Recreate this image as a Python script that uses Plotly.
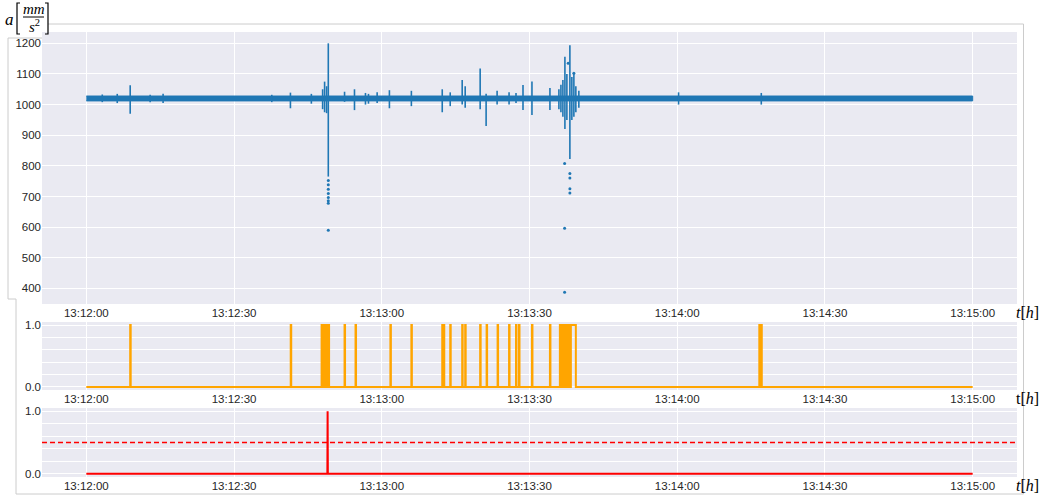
import pandas as pd
import plotly.graph_objects as go

W, H = 1042, 496
BASE = pd.Timestamp("2023-01-01 13:12:00")

# ---------------- data (seconds after 13:12:00) ----------------
time_span = [0, 180]

# dense acceleration band (envelope of the noisy samples)
band_t = [0, 180]
band_lo = [1012, 1012]
band_hi = [1028, 1028]

# bursts in the acceleration signal: time, min, max
spike_t = [3.24, 6.28, 8.91, 12.96, 15.59, 37.66, 41.45, 45.70, 47.99, 48.39,
           48.80, 49.14, 52.44, 54.46, 56.69, 57.30, 59.06, 61.55, 66.01, 72.28,
           73.90, 76.33, 76.94, 79.98, 81.19, 83.42, 85.85, 87.26, 88.68, 90.50,
           94.15, 95.97, 96.38, 96.78, 97.19, 97.59, 98.20, 98.60, 99.01, 99.41,
           100.02, 120.27, 137.07]
spike_lo = [1008, 1005, 970, 1008, 1005, 1008, 988, 1003, 985, 975,
            972, 765, 1009, 982, 1000, 1003, 1005, 988, 995, 975,
            995, 1000, 990, 985, 930, 1000, 1000, 1005, 982, 966,
            982, 985, 975, 960, 920, 950, 822, 950, 960, 975,
            990, 1000, 1000]
spike_hi = [1033, 1035, 1063, 1032, 1035, 1032, 1039, 1035, 1050, 1075,
            1060, 1200, 1042, 1050, 1038, 1035, 1040, 1047, 1045, 1050,
            1040, 1080, 1060, 1118, 1035, 1045, 1040, 1038, 1064, 1075,
            1054, 1050, 1065, 1080, 1156, 1100, 1194, 1090, 1102, 1060,
            1045, 1040, 1038]

# isolated samples far from the band
outlier_t = [49.14, 49.14, 49.14, 49.14, 49.14, 49.14, 49.14, 49.14,
             97.13, 98.20, 98.20, 98.20, 98.20, 97.13, 97.13, 97.86, 99.01]
outlier_v = [752, 738, 724, 710, 697, 686, 678, 590,
             808, 775, 760, 725, 711, 596, 387, 1135, 1102]

# detection pulses (value 1 between start and end)
pulse_start = [8.91, 41.51, 47.78, 48.19, 48.69, 49.20, 52.44, 54.67, 61.75, 66.01,
               72.28, 72.59, 73.90, 76.33, 76.94, 79.98, 81.29, 83.52, 85.85, 87.26,
               87.87, 90.50, 94.15, 96.17, 96.38, 96.58, 96.78, 96.98, 97.19, 97.39,
               97.69, 98.00, 98.40, 136.67, 137.07]
pulse_end = [9.01, 41.61, 47.88, 48.29, 48.79, 49.30, 52.54, 54.77, 61.85, 66.11,
             72.38, 72.69, 74.00, 76.43, 77.04, 80.08, 81.39, 83.62, 85.95, 87.36,
             87.97, 90.60, 94.25, 96.27, 96.48, 96.68, 96.88, 97.08, 97.29, 97.49,
             97.79, 98.10, 99.41, 136.77, 137.17]

# alarm signal
alarm_t = [49.0]
alarm_width = 0.1
threshold = 0.5

# ---------------- helpers ----------------
def ts(sec_list):
    return [None if s is None else BASE + pd.Timedelta(seconds=s) for s in sec_list]

def px(x):
    return x / W

def py(y):
    return 1 - y / H

# ---------------- traces ----------------
fig = go.Figure()

blue = "#1f77b4"
poly_t = band_t + band_t[::-1]
poly_v = band_hi + band_lo[::-1]
fig.add_trace(go.Scatter(x=ts(poly_t), y=poly_v, fill="toself", fillcolor=blue,
                         mode="lines", line=dict(color=blue, width=1),
                         xaxis="x", yaxis="y", showlegend=False, hoverinfo="skip"))

sx, sy = [], []
for t, lo, hi in zip(spike_t, spike_lo, spike_hi):
    sx += [t, t, None]
    sy += [lo, hi, None]
fig.add_trace(go.Scatter(x=ts(sx), y=sy, mode="lines",
                         line=dict(color=blue, width=1.6),
                         xaxis="x", yaxis="y", showlegend=False))
fig.add_trace(go.Scatter(x=ts(outlier_t), y=outlier_v, mode="markers",
                         marker=dict(color=blue, size=3),
                         xaxis="x", yaxis="y", showlegend=False))

ox, oy = [time_span[0]], [0]
for s, e in zip(pulse_start, pulse_end):
    ox += [s, s, e, e]
    oy += [0, 1, 1, 0]
ox.append(time_span[1]); oy.append(0)
fig.add_trace(go.Scatter(x=ts(ox), y=oy, mode="lines",
                         line=dict(color="#ffa500", width=2),
                         xaxis="x2", yaxis="y2", showlegend=False))

rx, ry = [time_span[0]], [0]
for a in alarm_t:
    rx += [a - alarm_width / 2, a, a + alarm_width / 2]
    ry += [0, 1, 0]
rx.append(time_span[1]); ry.append(0)
fig.add_trace(go.Scatter(x=ts(rx), y=ry, mode="lines",
                         line=dict(color="#ff0000", width=2),
                         xaxis="x3", yaxis="y3", showlegend=False))

# ---------------- layout ----------------
tickfont = dict(family="Liberation Sans, Arial, sans-serif", size=11.5, color="#262626")
xrange_ = [BASE + pd.Timedelta(seconds=-9), BASE + pd.Timedelta(seconds=189)]
xdom = [px(42), px(1017)]

def xax(anchor):
    return dict(domain=xdom, anchor=anchor, type="date", range=xrange_,
                tickformat="%H:%M:%S", dtick=30000, tick0=BASE,
                showgrid=True, gridcolor="white", gridwidth=1, zeroline=False,
                showline=False, ticks="", tickfont=tickfont, automargin=False)

small_y = dict(range=[-0.05, 1.05], tickvals=[0, 1], ticktext=["0.0", "1.0"],
               showgrid=True, gridcolor="white", gridwidth=1, zeroline=False,
               ticks="", tickfont=tickfont, automargin=False,
               minor=dict(dtick=0.2, tick0=0, showgrid=True, gridcolor="white",
                          gridwidth=1, ticks=""))

fig.update_layout(
    width=W, height=H, autosize=False,
    margin=dict(l=0, r=0, t=0, b=0, pad=0),
    paper_bgcolor="white", plot_bgcolor="#eaeaf2",
    xaxis=xax("y"), xaxis2=xax("y2"), xaxis3=xax("y3"),
    yaxis=dict(domain=[py(304), py(32)], anchor="x", range=[349, 1237],
               dtick=100, tick0=0, showgrid=True, gridcolor="white", gridwidth=1,
               zeroline=False, ticks="", tickfont=tickfont, automargin=False),
    yaxis2=dict(domain=[py(390), py(322)], anchor="x2", **small_y),
    yaxis3=dict(domain=[py(477), py(408)], anchor="x3", **small_y),
)

# threshold line
fig.add_shape(type="line", xref="x3 domain", yref="y3", x0=0, x1=1,
              y0=threshold, y1=threshold,
              line=dict(color="#ff0000", width=1.5, dash="5px,3px"))

# frames
frame = dict(color="#cccccc", width=1)
segs = [((48, 24), (1023.5, 24)), ((8, 38), (42, 38)), ((8, 38), (8, 299)),
        ((8, 299), (16, 299)), ((16, 299), (16, 494)), ((16, 494), (1023.5, 494)),
        ((1023.5, 24), (1023.5, 494))]
for (x0, y0), (x1, y1) in segs:
    fig.add_shape(type="line", xref="paper", yref="paper",
                  x0=px(x0), y0=py(y0), x1=px(x1), y1=py(y1), line=frame)

# y label brackets a[mm/s^2]
blk = dict(color="black", width=1.2)
for path in ["M{},{} L{},{} L{},{} L{},{}".format(px(20), py(3), px(17), py(3), px(17), py(34), px(20), py(34)),
             "M{},{} L{},{} L{},{} L{},{}".format(px(45), py(3), px(48), py(3), px(48), py(34), px(45), py(34))]:
    fig.add_shape(type="path", xref="paper", yref="paper", path=path, line=blk)
fig.add_shape(type="line", xref="paper", yref="paper", x0=px(23), x1=px(44),
              y0=py(17), y1=py(17), line=dict(color="black", width=1))

serif = "Liberation Serif, DejaVu Serif, serif"

def ann(text, x, y, size, family=serif):
    fig.add_annotation(text=text, xref="paper", yref="paper", x=px(x), y=py(y),
                       xanchor="center", yanchor="middle", showarrow=False,
                       font=dict(family=family, size=size, color="black"))

ann("<i>a</i>", 9, 19, 17)
ann("<i>mm</i>", 34, 9, 15)
ann("<i>s</i><sup>2</sup>", 34, 26, 15)
ann("<i>t</i>[<i>h</i>]", 1027, 312, 16)
ann("t[<i>h</i>]", 1027, 398, 16)
ann("<i>t</i>[<i>h</i>]", 1027, 485, 16)

fig.write_html("out.html", config={"displayModeBar": False},
               post_script="document.body.style.margin='0px';document.body.style.overflow='hidden';")
